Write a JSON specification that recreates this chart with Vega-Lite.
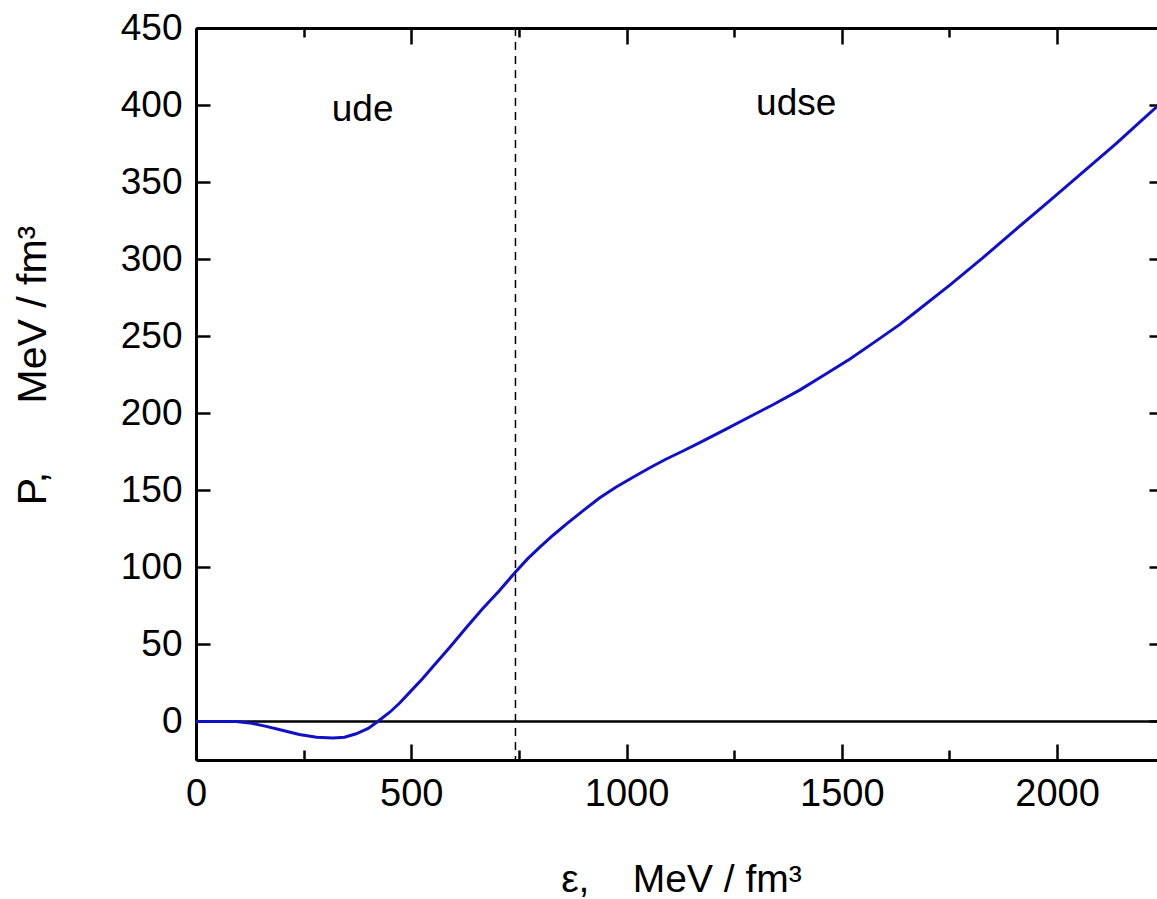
{
  "$schema": "https://vega.github.io/schema/vega-lite/v6.json",
  "width": 961,
  "height": 732,
  "autosize": {"type": "none"},
  "padding": {"left": 196, "top": 28, "right": 0, "bottom": 139},
  "background": "white",
  "config": {
    "view": {"stroke": null},
    "font": "Liberation Sans",
    "axis": {
      "labelFont": "Liberation Sans",
      "labelFontSize": 37,
      "labelColor": "black",
      "titleFont": "Liberation Sans",
      "titleFontSize": 37,
      "titleFontWeight": "normal",
      "titleColor": "black",
      "domainColor": "black",
      "domainWidth": 3,
      "tickColor": "black",
      "tickWidth": 2.5,
      "grid": false
    }
  },
  "datasets": {
    "curve": [
      {"e": 0, "p": 0}, {"e": 50, "p": 0}, {"e": 93, "p": 0}, {"e": 130, "p": -1.2},
      {"e": 163, "p": -3.2}, {"e": 200, "p": -5.7}, {"e": 240, "p": -8.5}, {"e": 280, "p": -10.2},
      {"e": 318, "p": -10.8}, {"e": 345, "p": -10.2}, {"e": 372, "p": -8}, {"e": 400, "p": -4.5},
      {"e": 422, "p": 0}, {"e": 450, "p": 6}, {"e": 473, "p": 12}, {"e": 500, "p": 20},
      {"e": 527, "p": 28}, {"e": 550, "p": 35.5}, {"e": 589, "p": 48}, {"e": 628, "p": 61},
      {"e": 665, "p": 73}, {"e": 705, "p": 85}, {"e": 742, "p": 97}, {"e": 770, "p": 105.5},
      {"e": 798, "p": 113}, {"e": 830, "p": 121}, {"e": 860, "p": 128}, {"e": 900, "p": 137},
      {"e": 937, "p": 145}, {"e": 975, "p": 152}, {"e": 1015, "p": 158.5}, {"e": 1053, "p": 164.5},
      {"e": 1090, "p": 170}, {"e": 1131, "p": 175.5}, {"e": 1170, "p": 181}, {"e": 1230, "p": 189.5},
      {"e": 1285, "p": 197.6}, {"e": 1340, "p": 205.5}, {"e": 1402, "p": 215}, {"e": 1460, "p": 225},
      {"e": 1518, "p": 235}, {"e": 1575, "p": 246}, {"e": 1634, "p": 257.5}, {"e": 1673, "p": 266},
      {"e": 1750, "p": 283}, {"e": 1828, "p": 301}, {"e": 1905, "p": 319.5}, {"e": 1983, "p": 338},
      {"e": 2060, "p": 356.5}, {"e": 2137, "p": 375}, {"e": 2190, "p": 388.5}, {"e": 2232, "p": 399}
    ],
    "vline": [{"e": 742}],
    "hline": [{"p": 0}],
    "labels": [
      {"e": 387, "p": 389.6, "t": "ude"},
      {"e": 1394, "p": 393.5, "t": "udse"}
    ]
  },
  "layer": [
    {
      "data": {"name": "hline"},
      "mark": {"type": "rule", "color": "black", "strokeWidth": 2.5},
      "encoding": {
        "y": {"field": "p", "type": "quantitative", "axis": null}
      }
    },
    {
      "data": {"name": "vline"},
      "mark": {"type": "rule", "color": "black", "strokeWidth": 1.5, "strokeDash": [8, 6]},
      "encoding": {
        "x": {"field": "e", "type": "quantitative", "axis": null}
      }
    },
    {
      "data": {"name": "curve"},
      "mark": {"type": "line", "color": "#1010C8", "strokeWidth": 3, "clip": true},
      "encoding": {
        "x": {
          "field": "e", "type": "quantitative",
          "scale": {"domain": [0, 2232], "nice": false, "zero": false},
          "axis": {
            "orient": "bottom",
            "values": [0, 250, 500, 750, 1000, 1250, 1500, 1750, 2000],
            "labelExpr": "datum.value % 500 === 0 ? format(datum.value, 'd') : ''",
            "tickSize": {"condition": {"test": "datum.value % 500 === 0", "value": -16}, "value": -10},
            "labelPadding": 31,
            "labelFontSize": 38,
            "labelFlush": false,
            "title": "ε,\u00a0\u00a0\u00a0\u00a0MeV / fm³",
            "titleFontSize": 39,
            "titlePadding": 47,
            "titleX": 485
          }
        },
        "y": {
          "field": "p", "type": "quantitative",
          "scale": {"domain": [-25, 450], "nice": false, "zero": false},
          "axis": {
            "orient": "left",
            "values": [0, 50, 100, 150, 200, 250, 300, 350, 400, 450],
            "tickSize": -14,
            "labelPadding": 28,
            "labelFlush": false,
            "title": "P,\u00a0\u00a0\u00a0\u00a0\u00a0\u00a0MeV / fm³",
            "titleFontSize": 41,
            "titlePadding": 66,
            "titleY": 337
          }
        }
      }
    },
    {
      "data": {"name": "labels"},
      "mark": {"type": "text", "fontSize": 37, "font": "Liberation Sans", "color": "black", "baseline": "alphabetic", "align": "center"},
      "encoding": {
        "x": {
          "field": "e", "type": "quantitative",
          "axis": {
            "orient": "top",
            "values": [0, 250, 500, 750, 1000, 1250, 1500, 1750, 2000],
            "labels": false,
            "tickSize": {"condition": {"test": "datum.value % 500 === 0", "value": -16}, "value": -9},
            "title": null
          }
        },
        "y": {
          "field": "p", "type": "quantitative",
          "axis": {
            "orient": "right",
            "values": [0, 50, 100, 150, 200, 250, 300, 350, 400, 450],
            "labels": false,
            "domain": false,
            "tickSize": -8,
            "title": null
          }
        },
        "text": {"field": "t"}
      }
    }
  ],
  "resolve": {"axis": {"x": "independent", "y": "independent"}}
}
